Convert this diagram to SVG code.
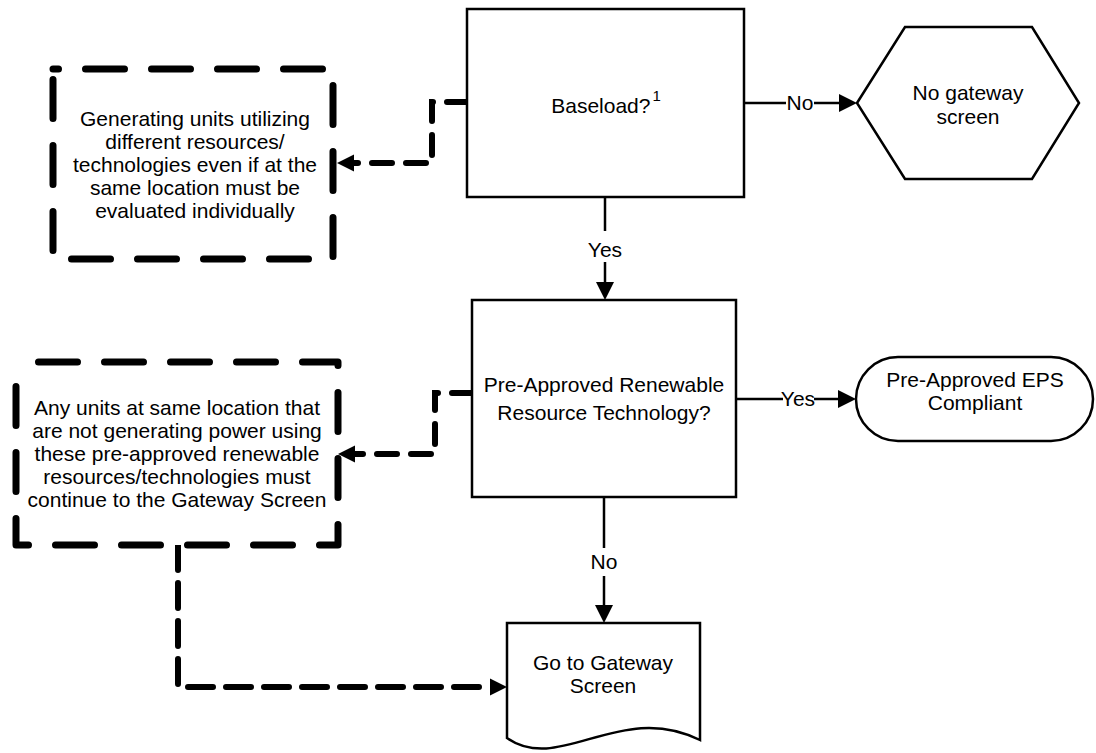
<svg xmlns="http://www.w3.org/2000/svg" width="1096" height="753" viewBox="0 0 1096 753">
<style>
.shape{fill:#fff;stroke:#000;stroke-width:2.5}
.dbox{fill:#fff;stroke:#000;stroke-width:7;stroke-linecap:round;stroke-linejoin:round;stroke-dasharray:39 27}
.t{font-family:"Liberation Sans",Arial,sans-serif;font-size:21px;fill:#000;text-anchor:middle}
.line{fill:none;stroke:#000;stroke-width:2.5}
.dline{fill:none;stroke:#000;stroke-width:6;stroke-linecap:round;stroke-dasharray:20 14}
.dline2{fill:none;stroke:#000;stroke-width:6;stroke-linecap:round;stroke-dasharray:25 13}
.lbg{fill:#fff;stroke:none}
</style>
<defs>
<marker id="arr" markerUnits="userSpaceOnUse" markerWidth="20" markerHeight="20" refX="0" refY="9" orient="auto" overflow="visible">
<path d="M0,0 L18,9 L0,18 z" fill="#000"/>
</marker>
<marker id="darr" markerUnits="userSpaceOnUse" markerWidth="20" markerHeight="20" refX="0" refY="8.5" orient="auto" overflow="visible">
<path d="M0,0 L17,8.5 L0,17 z" fill="#000"/>
</marker>
</defs>
<g id="connectors">
<path class="line" d="M744 103 H839" marker-end="url(#arr)"/>
<path class="line" d="M605 197 V282" marker-end="url(#arr)"/>
<path class="line" d="M736 399 H838" marker-end="url(#arr)"/>
<path class="line" d="M604 497 V605" marker-end="url(#arr)"/>
<path class="dline" d="M467 102 H432 V163 H354" marker-end="url(#darr)"/>
<path class="dline" d="M472 393 H435 V454 H355" marker-end="url(#darr)"/>
<path class="dline2" d="M178 545 V687 H490" marker-end="url(#darr)"/>
<rect class="lbg" x="786" y="92" width="28" height="22"/>
<text class="t" x="800" y="110">No</text>
<rect class="lbg" x="590" y="231" width="30" height="31"/>
<text class="t" x="605" y="257">Yes</text>
<rect class="lbg" x="783" y="388" width="31" height="22"/>
<text class="t" x="798" y="406">Yes</text>
<rect class="lbg" x="590" y="548" width="28" height="28"/>
<text class="t" x="604" y="569">No</text>
</g>
<g id="baseload">
<rect class="shape" x="467" y="9" width="277" height="188"/>
<text class="t" x="606" y="113">Baseload?<tspan font-size="15" dx="2" dy="-12">1</tspan></text>
</g>
<g id="no-gateway">
<polygon class="shape" points="857,103 905,27 1032,27 1079,103 1032,179 905,179"/>
<text class="t" x="968" y="100">No gateway</text>
<text class="t" x="968" y="124">screen</text>
</g>
<g id="note-baseload">
<path class="dbox" d="M53 69 H333 V259 H53 Z" stroke-dashoffset="33.5"/>
<text class="t" x="195" y="126">Generating units utilizing</text>
<text class="t" x="195" y="149">different resources/</text>
<text class="t" x="195" y="172">technologies even if at the</text>
<text class="t" x="195" y="195">same location must be</text>
<text class="t" x="195" y="218">evaluated individually</text>
</g>
<g id="preapproved">
<rect class="shape" x="472" y="300" width="264" height="197"/>
<text class="t" x="604" y="392">Pre-Approved Renewable</text>
<text class="t" x="604" y="420">Resource Technology?</text>
</g>
<g id="eps-compliant">
<rect class="shape" x="856" y="357" width="237" height="84" rx="42" ry="42"/>
<text class="t" x="975" y="387">Pre-Approved EPS</text>
<text class="t" x="975" y="410">Compliant</text>
</g>
<g id="note-preapproved">
<path class="dbox" d="M16 362 H338 V545 H16 Z" stroke-dashoffset="43.5"/>
<text class="t" x="177" y="415">Any units at same location that</text>
<text class="t" x="177" y="438">are not generating power using</text>
<text class="t" x="177" y="461">these pre-approved renewable</text>
<text class="t" x="177" y="484">resources/technologies must</text>
<text class="t" x="177" y="507">continue to the Gateway Screen</text>
</g>
<g id="gateway-screen">
<path class="shape" d="M507 623 H700 V740 C620 700 560 775 507 738 Z"/>
<text class="t" x="603" y="670">Go to Gateway</text>
<text class="t" x="603" y="693">Screen</text>
</g>
</svg>
